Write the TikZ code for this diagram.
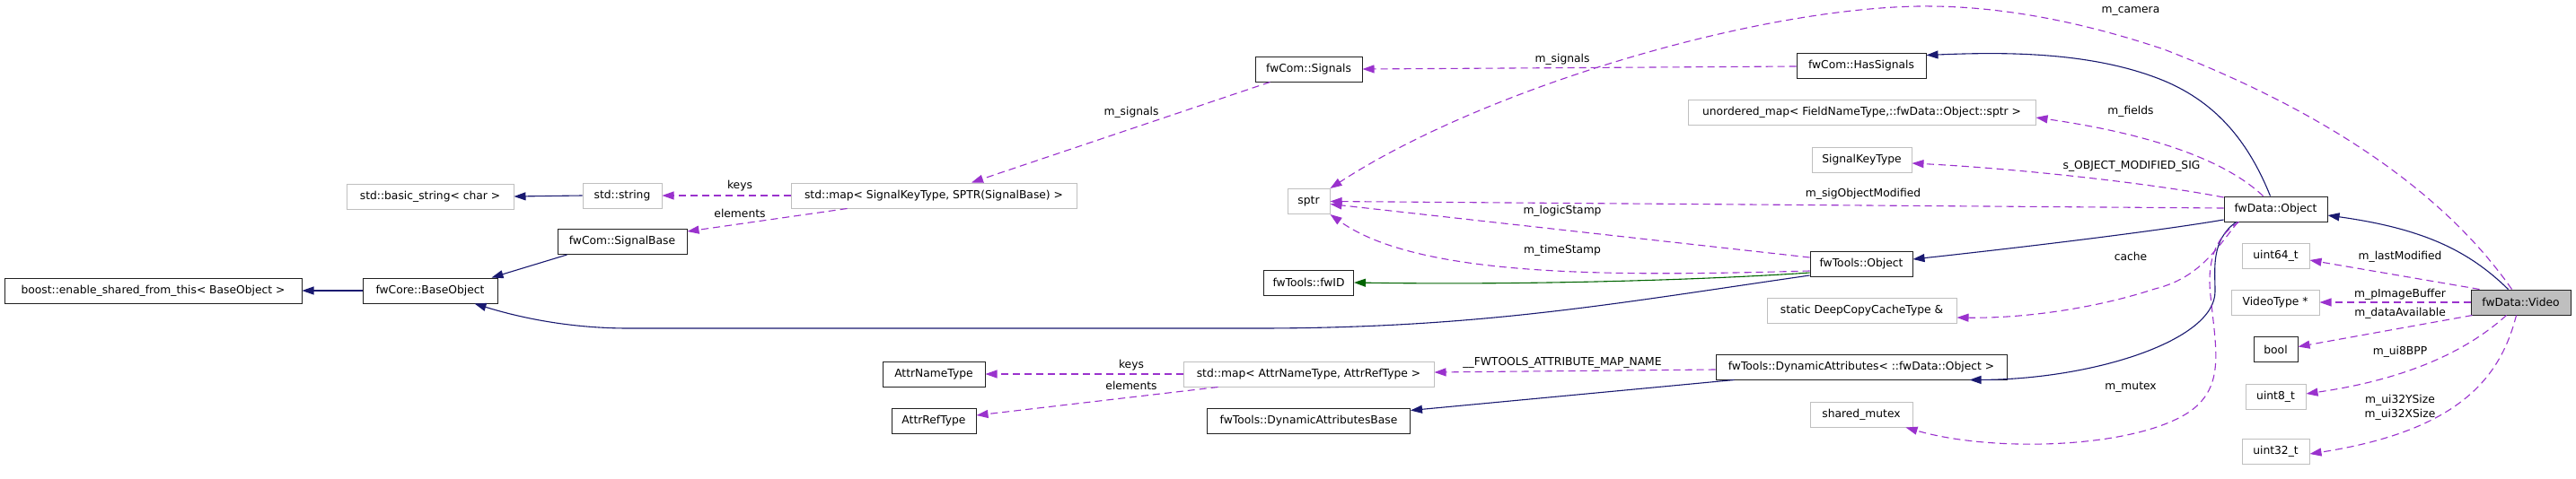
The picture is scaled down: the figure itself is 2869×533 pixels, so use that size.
\documentclass[tikz,border=0pt]{standalone}
\usepackage{fontspec}
\setmainfont{DejaVu Sans}
\usetikzlibrary{arrows.meta,calc}
\definecolor{inhc}{HTML}{191970}
\definecolor{usec}{HTML}{9A32CD}
\definecolor{tplc}{HTML}{006400}
\definecolor{grayb}{HTML}{BFBFBF}
\definecolor{boxb}{HTML}{202020}
\begin{document}
\begin{tikzpicture}[x=1pt,y=-1pt,
  font=\fontsize{12.3}{15}\selectfont,
  box/.style={draw=boxb, line width=1pt, fill=white, minimum height=28pt, inner xsep=0pt, inner ysep=0pt, anchor=center},
  gbox/.style={box, draw=grayb},
  tip/.style={-{Triangle[length=13pt,width=9pt]}},
  inh/.style={draw=inhc, line width=1.1pt, tip},
  use/.style={draw=usec, line width=1.1pt, dash pattern=on 8pt off 5pt, tip},
  tpl/.style={draw=tplc, line width=1.1pt, tip},
  lbl/.style={inner sep=0pt, anchor=center}
]
\fill[white] (0,0) rectangle (2869,533);
\useasboundingbox (0,0) rectangle (2869,533);

% ---- nodes ----
\node[box, minimum width=331pt] (boost) at (170.5,324) {boost::enable\_shared\_from\_this< BaseObject >};
\node[box, minimum width=150pt] (baseobj) at (479,324) {fwCore::BaseObject};
\node[gbox, minimum width=186pt] (bstr) at (479,219) {std::basic\_string< char >};
\node[gbox, minimum width=88pt] (sstr) at (693,218) {std::string};
\node[box, minimum width=144pt] (sigbase) at (693,269.5) {fwCom::SignalBase};
\node[gbox, minimum width=318pt] (smap) at (1040,218) {std::map< SignalKeyType, SPTR(SignalBase) >};
\node[box, minimum width=114pt] (attrname) at (1040,417) {AttrNameType};
\node[box, minimum width=94pt] (attrref) at (1040,469) {AttrRefType};
\node[box, minimum width=119pt] (signals) at (1457.5,77) {fwCom::Signals};
\node[gbox, minimum width=47pt] (sptr) at (1457.5,224.5) {sptr};
\node[box, minimum width=100pt] (fwid) at (1457.5,315) {fwTools::fwID};
\node[gbox, minimum width=279pt] (amap) at (1457.5,417) {std::map< AttrNameType, AttrRefType >};
\node[box, minimum width=226pt] (dabase) at (1457.5,469) {fwTools::DynamicAttributesBase};
\node[box, minimum width=144pt] (hassig) at (2073,73) {fwCom::HasSignals};
\node[gbox, minimum width=387pt] (umap) at (2073.5,125) {unordered\_map< FieldNameType,::fwData::Object::sptr >};
\node[gbox, minimum width=111pt] (skt) at (2073.5,178) {SignalKeyType};
\node[box, minimum width=114pt] (ftobj) at (2073,294) {fwTools::Object};
\node[gbox, minimum width=211pt] (dcc) at (2073.5,346) {static DeepCopyCacheType \&};
\node[box, minimum width=324pt] (dynattr) at (2073,409) {fwTools::DynamicAttributes< ::fwData::Object >};
\node[gbox, minimum width=114pt] (smutex) at (2073,462) {shared\_mutex};
\node[box, minimum width=115pt] (fdobj) at (2534.5,233) {fwData::Object};
\node[gbox, minimum width=75pt] (u64) at (2534.5,285) {uint64\_t};
\node[gbox, minimum width=98pt] (vtype) at (2534,337) {VideoType *};
\node[box, minimum width=49pt] (bool) at (2534.5,389.5) {bool};
\node[gbox, minimum width=67pt] (u8) at (2534.5,442) {uint8\_t};
\node[gbox, minimum width=75pt] (u32) at (2534.5,503) {uint32\_t};
\node[box, fill=grayb, minimum width=111pt] (video) at (2807.5,337) {fwData::Video};

% ---- edges ----
\draw[inh] (baseobj.west) -- (boost.east);
\draw[inh] ($(sigbase.south west)+(11,0)$) -- ($(baseobj.north east)+(-7,0)$);
\draw[inh] ($(ftobj.west)+(0,13)$) .. controls (1800,338) and (1650,366) .. (1400,366) -- (700,366) .. controls (640,366) and (585,356) .. ($(baseobj.south east)+(-26,0)$);
\draw[inh] (sstr.west) -- (bstr.east);
\draw[use] (smap.west) -- (sstr.east);
\draw[use] ($(smap.south west)+(63,0)$) -- ($(sigbase.north east)+(0,3)$);
\draw[use] ($(signals.south west)+(17,0)$) -- ($(smap.north)+(42,0)$);
\draw[use] ($(hassig.west)+(0,1)$) -- (signals.east);
\draw[inh] ($(fdobj.north)+(-6,0)$) .. controls (2505,160) and (2470,115) .. (2410,90) .. controls (2330,57) and (2230,58) .. ($(hassig.north east)+(0,3)$);
\draw[use] ($(fdobj.north)+(-14,0)$) .. controls (2480,180) and (2400,150) .. ($(umap.east)+(0,6)$);
\draw[use] ($(fdobj.west)+(0,-13)$) .. controls (2400,205) and (2250,188) .. ($(skt.east)+(0,4)$);
\draw[use] ($(fdobj.west)+(0,-1)$) -- (sptr.east);
\draw[use] ($(ftobj.west)+(0,-7)$) -- ($(sptr.east)+(0,3)$);
\draw[use] ($(ftobj.west)+(0,8)$) .. controls (1800,308) and (1580,310) .. (sptr.south east);
\draw[tpl] ($(ftobj.west)+(0,10)$) .. controls (1900,312) and (1700,318) .. (fwid.east);
\draw[use] ($(video.north)+(-10,0)$) .. controls (2740,240) and (2630,140) .. (2410,55) .. controls (2300,18) and (2210,6) .. (2137,7) .. controls (1950,10) and (1650,100) .. (sptr.north east);
\draw[inh] ($(fdobj.west)+(0,12)$) .. controls (2400,258) and (2250,276) .. ($(ftobj.east)+(0,-5)$);
\draw[use] ($(fdobj.south west)+(16,0)$) .. controls (2470,275) and (2450,310) .. (2400,322) .. controls (2330,345) and (2250,355) .. ($(dcc.east)+(0,8)$);
\draw[inh] ($(fdobj.south west)+(14,0)$) .. controls (2462,268) and (2467,300) .. (2467,325) .. controls (2467,380) and (2330,423) .. ($(dynattr.south east)+(-42,0)$);
\draw[use] ($(fdobj.south west)+(17,0)$) .. controls (2465,265) and (2458,295) .. (2462,330) .. controls (2468,390) and (2478,430) .. (2440,458) .. controls (2380,500) and (2220,505) .. ($(smutex.south east)+(-8,0)$);
\draw[use] ($(dynattr.west)+(0,3)$) -- ($(amap.east)+(0,-2)$);
\draw[inh] ($(dynattr.south west)+(21,0)$) -- ($(dabase.north east)+(0,3)$);
\draw[use] (amap.west) -- (attrname.east);
\draw[use] ($(amap.south west)+(39,0)$) -- ($(attrref.east)+(0,-6)$);
\draw[inh] ($(video.north)+(-14,0)$) .. controls (2750,280) and (2700,255) .. ($(fdobj.east)+(0,7)$);
\draw[use] ($(video.north west)+(10,0)$) -- ($(u64.east)+(0,5)$);
\draw[use] (video.west) -- (vtype.east);
\draw[use] ($(video.south west)+(2,0)$) -- ($(bool.east)+(0,-3)$);
\draw[use] ($(video.south)+(-16,0)$) .. controls (2760,380) and (2700,420) .. ($(u8.east)+(0,-3)$);
\draw[use] ($(video.south)+(-5,0)$) .. controls (2785,420) and (2740,480) .. ($(u32.east)+(0,3)$);

% ---- labels ----
\node[lbl] (l1) at (824,207) {keys};
\node[lbl] (l2) at (824,238) {elements};
\node[lbl] (l3) at (1260,125) {m\_signals};
\node[lbl] (l4) at (1740,66) {m\_signals};
\node[lbl] (l5) at (1260,407) {keys};
\node[lbl] (l6) at (1260,430) {elements};
\node[lbl] (l7) at (1740,404) {\_\_FWTOOLS\_ATTRIBUTE\_MAP\_NAME};
\node[lbl] (l8) at (1740,235) {m\_logicStamp};
\node[lbl] (l9) at (1740,279) {m\_timeStamp};
\node[lbl] (l10) at (2373,13) {m\_camera};
\node[lbl] (l11) at (2373,124) {m\_fields};
\node[lbl] (l12) at (2374,185) {s\_OBJECT\_MODIFIED\_SIG};
\node[lbl] (l13) at (2075,216) {m\_sigObjectModified};
\node[lbl] (l14) at (2373,286) {cache};
\node[lbl] (l15) at (2373,432) {m\_mutex};
\node[lbl] (l16) at (2673,286) {m\_lastModified};
\node[lbl] (l17) at (2673,328) {m\_pImageBuffer};
\node[lbl] (l18) at (2673,349) {m\_dataAvailable};
\node[lbl] (l19) at (2673,392) {m\_ui8BPP};
\node[lbl, align=center, font=\fontsize{12.3}{16}\selectfont] (l20) at (2673,454) {m\_ui32YSize\\m\_ui32XSize};
\end{tikzpicture}
\end{document}
